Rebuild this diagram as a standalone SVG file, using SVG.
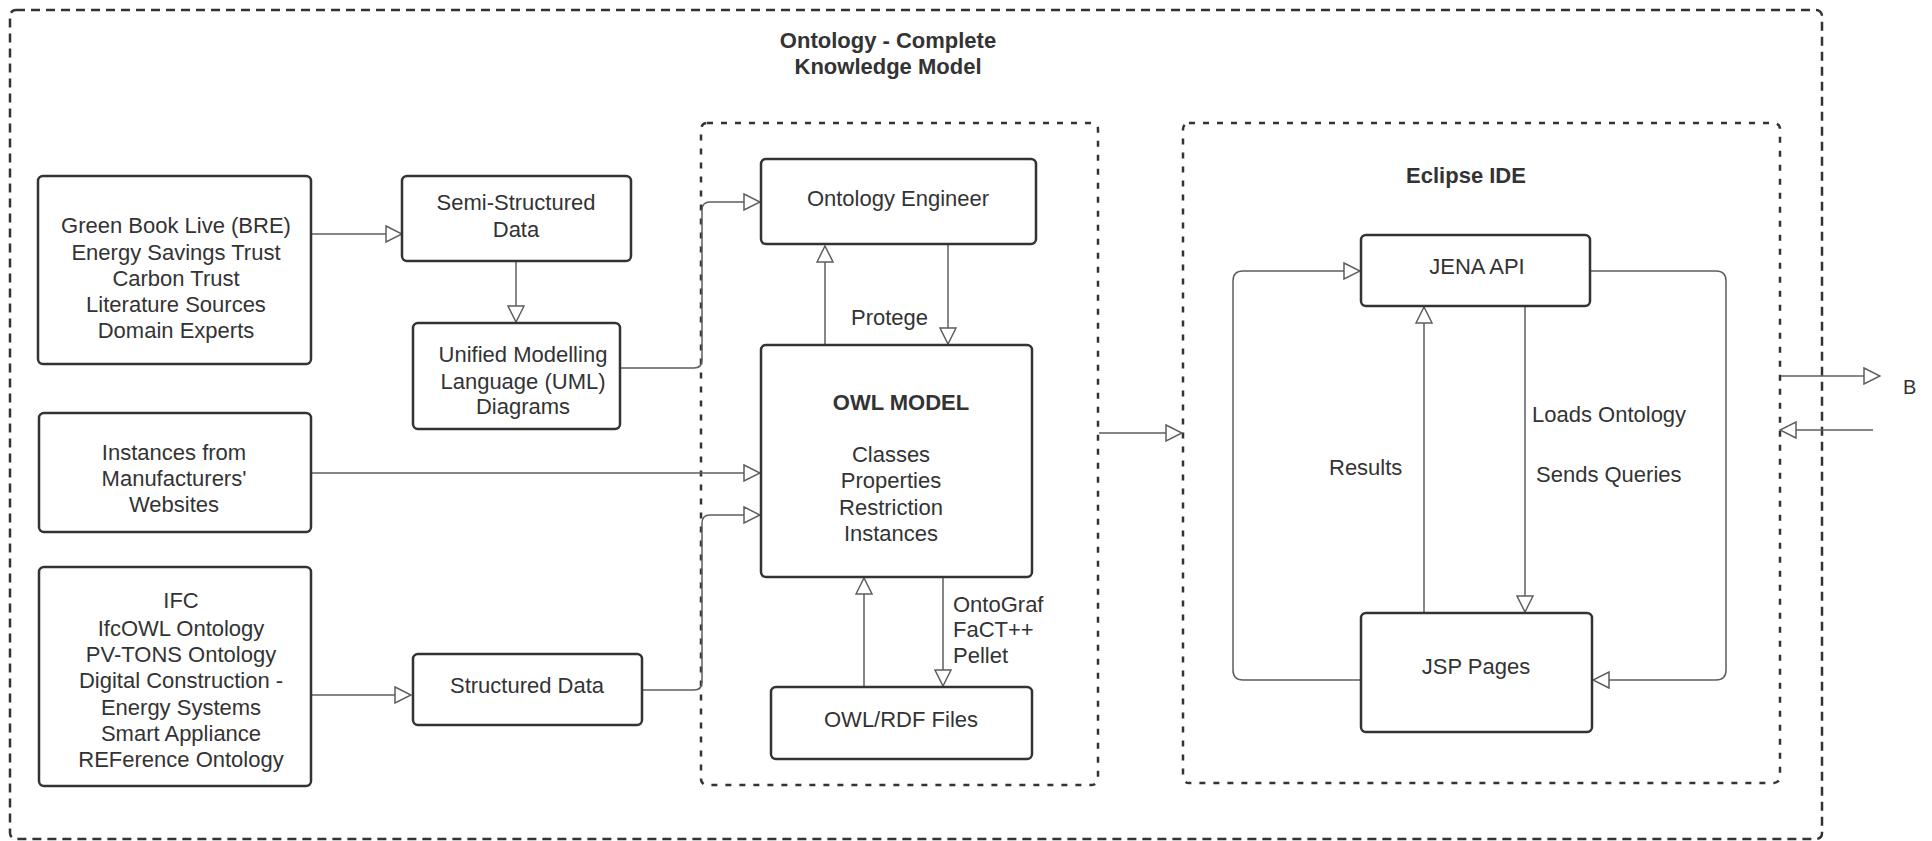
<svg xmlns="http://www.w3.org/2000/svg" width="1932" height="841" viewBox="0 0 1932 841">
<defs>
<style>
.box{fill:#fff;stroke:#333;stroke-width:2.5}
.grp{fill:none;stroke:#333;stroke-width:2.5;stroke-dasharray:9 6}
.grp2{fill:none;stroke:#333;stroke-width:2.5;stroke-dasharray:6 8}
.ln{fill:none;stroke:#5e5e5e;stroke-width:1.5}
text{font-family:"Liberation Sans",Arial,sans-serif;font-size:22px;fill:#333}
.c{text-anchor:middle}
.b{font-weight:bold}
</style>
<marker id="ah" viewBox="0 0 18 18" refX="17" refY="9" markerWidth="18" markerHeight="18" markerUnits="userSpaceOnUse" orient="auto">
<path d="M1,1 L17,9 L1,17 Z" fill="#fff" stroke="#5e5e5e" stroke-width="1.5"/>
</marker>
</defs>

<g id="outer">
<rect class="grp" x="10" y="10" width="1812" height="829" rx="6"/>
<text class="c b" x="888" y="48">Ontology - Complete</text>
<text class="c b" x="888" y="74">Knowledge Model</text>
</g>
<g id="owl-group">
<rect class="grp2" x="701" y="123" width="397" height="662" rx="6"/>
</g>
<g id="eclipse-group">
<rect class="grp2" x="1183" y="123" width="597" height="660" rx="6"/>
<text class="c b" x="1466" y="183">Eclipse IDE</text>
</g>

<g id="connectors">
<path class="ln" marker-end="url(#ah)" d="M311,234 H402"/>
<path class="ln" marker-end="url(#ah)" d="M516,261 V322"/>
<path class="ln" marker-end="url(#ah)" d="M620,368 H694 Q702,368 702,360 V210 Q702,202 710,202 H760"/>
<path class="ln" marker-end="url(#ah)" d="M311,473 H760"/>
<path class="ln" marker-end="url(#ah)" d="M311,695 H411"/>
<path class="ln" marker-end="url(#ah)" d="M642,690 H694 Q702,690 702,682 V523 Q702,515 710,515 H760"/>
<path class="ln" marker-end="url(#ah)" d="M825,345 V246"/>
<path class="ln" marker-end="url(#ah)" d="M948,244 V344"/>
<path class="ln" marker-end="url(#ah)" d="M864,687 V578"/>
<path class="ln" marker-end="url(#ah)" d="M943,577 V686"/>
<path class="ln" marker-end="url(#ah)" d="M1099,433 H1182"/>
<path class="ln" marker-end="url(#ah)" d="M1361,680 H1243 Q1233,680 1233,670 V281 Q1233,271 1243,271 H1360"/>
<path class="ln" marker-end="url(#ah)" d="M1424,613 V307"/>
<path class="ln" marker-end="url(#ah)" d="M1525,306 V612"/>
<path class="ln" marker-end="url(#ah)" d="M1590,271 H1716 Q1726,271 1726,281 V670 Q1726,680 1716,680 H1593"/>
<path class="ln" marker-end="url(#ah)" d="M1781,376 H1880"/>
<path class="ln" marker-end="url(#ah)" d="M1873,430 H1780"/>
<text x="851" y="325">Protege</text>
<text x="953" y="612">OntoGraf</text>
<text x="953" y="637">FaCT++</text>
<text x="953" y="663">Pellet</text>
<text x="1329" y="475">Results</text>
<text x="1532" y="422">Loads Ontology</text>
<text x="1536" y="482">Sends Queries</text>
<text x="1903" y="394" style="font-size:20px">B</text>
</g>

<g id="sources">
<rect class="box" x="38" y="176" width="273" height="188" rx="5"/>
<text class="c" x="176" y="233">Green Book Live (BRE)</text>
<text class="c" x="176" y="260">Energy Savings Trust</text>
<text class="c" x="176" y="286">Carbon Trust</text>
<text class="c" x="176" y="312">Literature Sources</text>
<text class="c" x="176" y="338">Domain Experts</text>
</g>
<g id="semi-structured">
<rect class="box" x="402" y="176" width="229" height="85" rx="5"/>
<text class="c" x="516" y="210">Semi-Structured</text>
<text class="c" x="516" y="237">Data</text>
</g>
<g id="uml">
<rect class="box" x="413" y="323" width="207" height="106" rx="5"/>
<text class="c" x="523" y="362">Unified Modelling</text>
<text class="c" x="523" y="389">Language (UML)</text>
<text class="c" x="523" y="414">Diagrams</text>
</g>
<g id="instances">
<rect class="box" x="39" y="413" width="272" height="119" rx="5"/>
<text class="c" x="174" y="460">Instances from</text>
<text class="c" x="174" y="486">Manufacturers'</text>
<text class="c" x="174" y="512">Websites</text>
</g>
<g id="ifc">
<rect class="box" x="39" y="567" width="272" height="219" rx="5"/>
<text class="c" x="181" y="608">IFC</text>
<text class="c" x="181" y="636">IfcOWL Ontology</text>
<text class="c" x="181" y="662">PV-TONS Ontology</text>
<text class="c" x="181" y="688">Digital Construction -</text>
<text class="c" x="181" y="715">Energy Systems</text>
<text class="c" x="181" y="741">Smart Appliance</text>
<text class="c" x="181" y="767">REFerence Ontology</text>
</g>
<g id="structured">
<rect class="box" x="413" y="654" width="229" height="71" rx="5"/>
<text class="c" x="527" y="693">Structured Data</text>
</g>
<g id="ontology-engineer">
<rect class="box" x="761" y="159" width="275" height="85" rx="5"/>
<text class="c" x="898" y="206">Ontology Engineer</text>
</g>
<g id="owl-model">
<rect class="box" x="761" y="345" width="271" height="232" rx="5"/>
<text class="c b" x="901" y="410">OWL MODEL</text>
<text class="c" x="891" y="462">Classes</text>
<text class="c" x="891" y="488">Properties</text>
<text class="c" x="891" y="515">Restriction</text>
<text class="c" x="891" y="541">Instances</text>
</g>
<g id="owl-rdf">
<rect class="box" x="771" y="687" width="261" height="72" rx="5"/>
<text class="c" x="901" y="727">OWL/RDF Files</text>
</g>
<g id="jena">
<rect class="box" x="1361" y="235" width="229" height="71" rx="5"/>
<text class="c" x="1477" y="274">JENA API</text>
</g>
<g id="jsp">
<rect class="box" x="1361" y="613" width="231" height="119" rx="5"/>
<text class="c" x="1476" y="674">JSP Pages</text>
</g>
</svg>
